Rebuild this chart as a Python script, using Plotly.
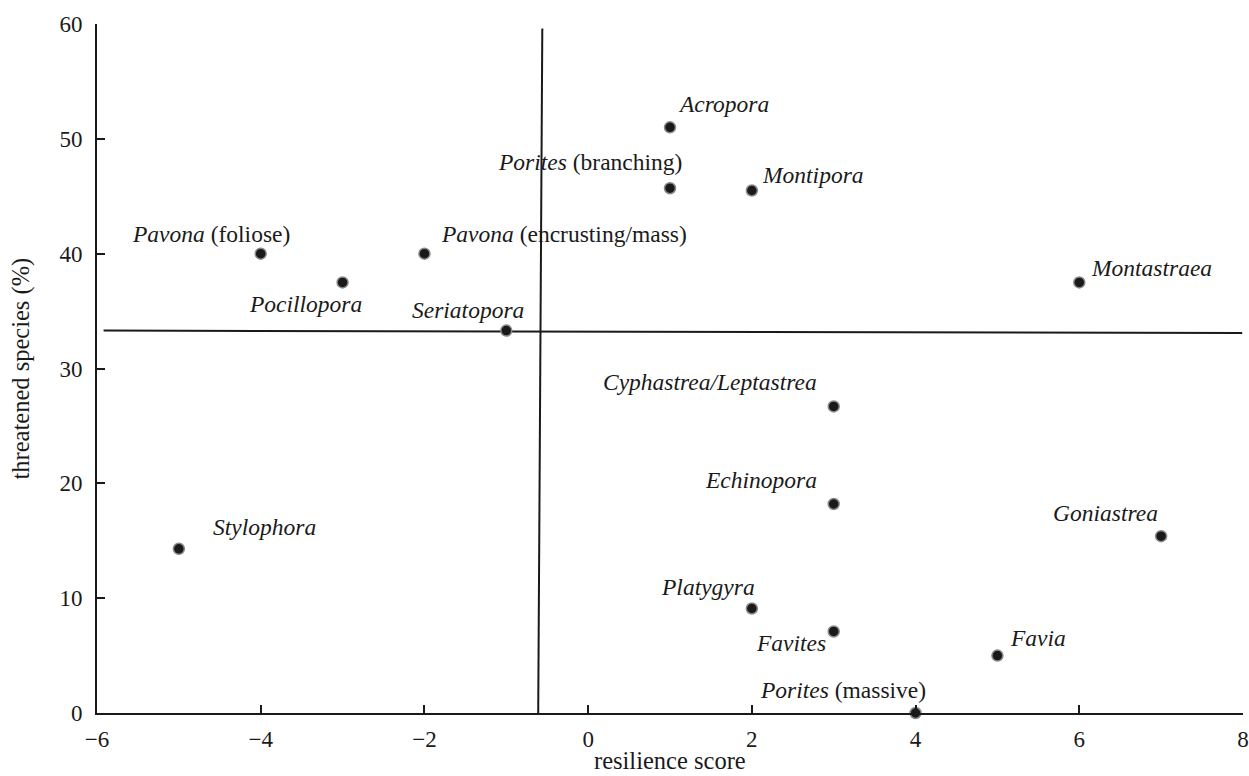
import plotly.graph_objects as go

genera = ["Acropora", "Porites", "Montipora", "Pavona", "Pavona", "Pocillopora",
          "Montastraea", "Seriatopora", "Cyphastrea/Leptastrea", "Echinopora",
          "Goniastrea", "Stylophora", "Platygyra", "Favites", "Favia", "Porites"]
forms = ["", "(branching)", "", "(foliose)", "(encrusting/mass)", "",
         "", "", "", "", "", "", "", "", "", "(massive)"]
resilience = [1, 1, 2, -4, -2, -3, 6, -1, 3, 3, 7, -5, 2, 3, 5, 4]
threatened = [51.0, 45.7, 45.5, 40.0, 40.0, 37.5, 37.5, 33.3, 26.7, 18.2, 15.4, 14.3, 9.1, 7.1, 5.0, 0.0]

# dividing lines
vline_x = [-0.61, -0.56]
vline_y = [0.0, 59.6]
hline_x = [-5.92, 7.99]
hline_y = [33.3, 33.1]

x_ticks = [-6, -4, -2, 0, 2, 4, 6, 8]
y_ticks = [0, 10, 20, 30, 40, 50, 60]

x_title = "resilience score"
y_title = "threatened species (%)"

# label placement (anchor, x shift px, y shift px)
label_style = [
    ("left", 6, 23), ("right", 14, 26), ("left", 8, 16), ("right", 31, 20),
    ("left", 15, 20), ("right", 21, -22), ("left", 10, 14), ("right", 20, 21),
    ("right", -15, 24), ("right", -15, 24), ("right", -1, 23), ("left", 32, 22),
    ("right", 5, 22), ("right", -6, -12), ("left", 11, 18), ("right", 12, 23),
]

FONT = "Liberation Serif, Times New Roman, serif"
INK = "#1a1a1a"

fig = go.Figure()
fig.add_trace(go.Scatter(x=vline_x, y=vline_y, mode="lines",
                         line=dict(color=INK, width=2), hoverinfo="skip"))
fig.add_trace(go.Scatter(x=hline_x, y=hline_y, mode="lines",
                         line=dict(color=INK, width=2), hoverinfo="skip"))
fig.add_trace(go.Scatter(x=resilience, y=threatened, mode="markers",
                         marker=dict(size=11, color=INK,
                                     line=dict(color="#8a8a8a", width=1.5)),
                         cliponaxis=False))

annotations = []
for g, f, x, y, (anc, dx, dy) in zip(genera, forms, resilience, threatened, label_style):
    txt = "<i>%s</i>" % g + (" " + f if f else "")
    annotations.append(dict(x=x, y=y, xref="x", yref="y", text=txt, showarrow=False,
                            xanchor=anc, yanchor="middle", xshift=dx, yshift=dy,
                            font=dict(family=FONT, size=23.5, color=INK)))

# axis titles
annotations.append(dict(x=0.5, y=0, xref="paper", yref="paper", text=x_title,
                        showarrow=False, xanchor="center", yanchor="middle", yshift=-47,
                        font=dict(family=FONT, size=24.5, color=INK)))
annotations.append(dict(x=0, y=0.5, xref="paper", yref="paper", text=y_title,
                        showarrow=False, xanchor="center", yanchor="middle", xshift=-77,
                        textangle=-90, font=dict(family=FONT, size=24.5, color=INK)))

fig.update_layout(
    width=1249, height=776,
    margin=dict(l=97, r=6, t=24, b=63),
    paper_bgcolor="white", plot_bgcolor="white",
    showlegend=False,
    font=dict(family=FONT, size=23, color=INK),
    annotations=annotations,
    xaxis=dict(range=[-6, 8], tickvals=x_ticks, ticks="inside", ticklen=8, tickwidth=2,
               tickcolor=INK, showline=True, linecolor=INK, linewidth=2,
               showgrid=False, zeroline=False, automargin=False, ticklabelstandoff=4,
               tickfont=dict(family=FONT, size=23, color=INK)),
    yaxis=dict(range=[0, 60], tickvals=y_ticks, ticks="inside", ticklen=8, tickwidth=2,
               tickcolor=INK, showline=True, linecolor=INK, linewidth=2,
               showgrid=False, zeroline=False, automargin=False, ticklabelstandoff=8,
               tickfont=dict(family=FONT, size=23, color=INK)),
)

fig.write_html("out.html", config={"displayModeBar": False, "staticPlot": True})

# remove the browser's default 8px body margin so the figure fills the window exactly
with open("out.html", "r", encoding="utf-8") as fh:
    html = fh.read()
html = html.replace("<body>", '<body style="margin:0;overflow:hidden">', 1)
with open("out.html", "w", encoding="utf-8") as fh:
    fh.write(html)
